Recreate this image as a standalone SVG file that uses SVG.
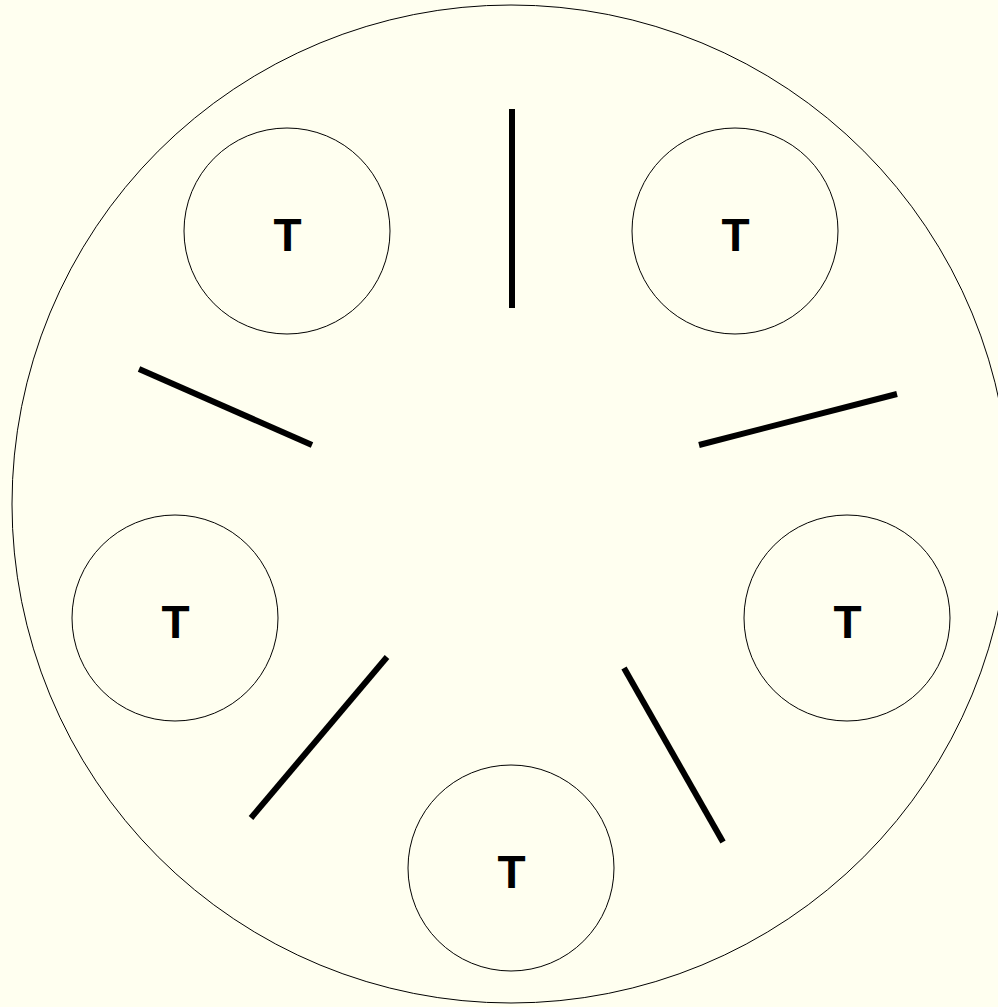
<svg xmlns="http://www.w3.org/2000/svg" width="998" height="1007" viewBox="0 0 998 1007">
<style>
.c{fill:none;stroke:#000;stroke-width:1}
.t{font-family:"Liberation Sans",Arial,sans-serif;font-weight:bold;font-size:46px;text-anchor:middle;fill:#000}
.f{stroke:#000;stroke-width:6}
</style>
<rect width="998" height="1007" fill="#FFFFF0"/>
<g id="table"><circle class="c" cx="511" cy="504" r="499"/></g>
<g id="p1"><circle class="c" cx="287" cy="231" r="103"/><text class="t" x="287.5" y="251">T</text></g>
<g id="p2"><circle class="c" cx="735" cy="231" r="103"/><text class="t" x="735.5" y="251">T</text></g>
<g id="p3"><circle class="c" cx="175" cy="618" r="103"/><text class="t" x="175.5" y="638">T</text></g>
<g id="p4"><circle class="c" cx="847" cy="618" r="103"/><text class="t" x="847.5" y="638">T</text></g>
<g id="p5"><circle class="c" cx="511" cy="868" r="103"/><text class="t" x="511.5" y="888">T</text></g>
<g id="forks">
<line class="f" x1="512" y1="109" x2="512" y2="308"/>
<line class="f" x1="139" y1="369" x2="312" y2="445"/>
<line class="f" x1="699" y1="445" x2="897" y2="394"/>
<line class="f" x1="387" y1="657" x2="251" y2="818"/>
<line class="f" x1="624" y1="668" x2="723" y2="842"/>
</g>
</svg>
